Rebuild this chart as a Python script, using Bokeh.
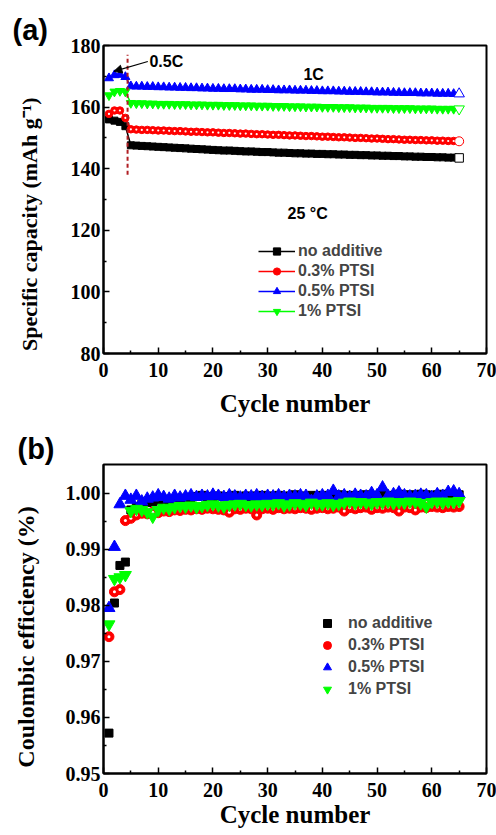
from bokeh.plotting import figure
from bokeh.layouts import column
from bokeh.models import (Range1d, FixedTicker, NumeralTickFormatter, Legend,
                          LegendItem, Label, Arrow, NormalHead)
from bokeh.embed import file_html
from bokeh.resources import INLINE

# ---------------- data ----------------
cycles = list(range(1, 66))

# (a) specific capacity, mAh/g
cap_none = [156.0, 155.6, 155.2, 153.8,
            147.6, 147.5, 147.4, 147.3, 147.2, 147.1, 147.0, 146.9, 146.8, 146.7,
            146.6, 146.5, 146.4, 146.3, 146.2, 146.1, 146.0, 145.9, 145.9, 145.8,
            145.7, 145.6, 145.6, 145.5, 145.4, 145.4, 145.3, 145.2, 145.2, 145.1,
            145.0, 145.0, 144.9, 144.9, 144.8, 144.8, 144.7, 144.7, 144.6, 144.6,
            144.5, 144.5, 144.4, 144.4, 144.3, 144.3, 144.2, 144.2, 144.1, 144.1,
            144.0, 144.0, 143.9, 143.9, 143.8, 143.8, 143.7, 143.7, 143.6, 143.6, 143.5]
cap_03 = [157.8, 158.9, 158.9, 156.5,
          152.8, 152.7, 152.6, 152.6, 152.5, 152.4, 152.4, 152.3, 152.2, 152.2,
          152.1, 152.0, 152.0, 151.9, 151.8, 151.8, 151.7, 151.6, 151.6, 151.5,
          151.4, 151.4, 151.3, 151.2, 151.2, 151.1, 151.0, 151.0, 150.9, 150.8,
          150.8, 150.7, 150.6, 150.6, 150.5, 150.4, 150.4, 150.3, 150.2, 150.2,
          150.1, 150.0, 150.0, 149.9, 149.8, 149.8, 149.7, 149.6, 149.6, 149.5,
          149.4, 149.4, 149.3, 149.3, 149.2, 149.2, 149.1, 149.1, 149.0, 149.0, 148.9]
cap_05 = [169.4, 170.4, 170.5, 169.8,
          166.8, 166.7, 166.7, 166.6, 166.6, 166.5, 166.5, 166.4, 166.4, 166.3,
          166.3, 166.2, 166.2, 166.1, 166.1, 166.0, 166.0, 165.9, 165.9, 165.9,
          165.8, 165.8, 165.7, 165.7, 165.7, 165.6, 165.6, 165.5, 165.5, 165.5,
          165.4, 165.4, 165.4, 165.3, 165.3, 165.2, 165.2, 165.2, 165.1, 165.1,
          165.0, 165.0, 165.0, 164.9, 164.9, 164.8, 164.8, 164.8, 164.7, 164.7,
          164.6, 164.6, 164.6, 164.5, 164.5, 164.5, 164.4, 164.4, 164.4, 164.3, 164.3]
cap_1 = [163.8, 165.0, 165.2, 165.0,
         161.3, 161.2, 161.2, 161.1, 161.1, 161.0, 161.0, 161.0, 160.9, 160.9,
         160.9, 160.8, 160.8, 160.8, 160.7, 160.7, 160.7, 160.6, 160.6, 160.6,
         160.5, 160.5, 160.5, 160.4, 160.4, 160.4, 160.3, 160.3, 160.3, 160.2,
         160.2, 160.2, 160.1, 160.1, 160.1, 160.0, 160.0, 160.0, 159.9, 159.9,
         159.9, 159.8, 159.8, 159.8, 159.7, 159.7, 159.7, 159.7, 159.6, 159.6,
         159.6, 159.6, 159.5, 159.5, 159.5, 159.5, 159.4, 159.4, 159.4, 159.4, 159.4]

# (b) coulombic efficiency
ce_none = [0.9572, 0.9804, 0.9871, 0.9877, 0.9970, 0.9976, 0.9980, 0.9983, 0.9985, 0.9986,
           0.9988, 0.9987, 0.9989, 0.9990, 0.9991, 0.9992, 0.9994, 0.9996, 0.9993, 0.9994,
           0.9995, 0.9993, 0.9994, 0.9996, 0.9994, 0.9995, 0.9993, 0.9995, 0.9996, 0.9994,
           0.9995, 0.9996, 0.9994, 0.9995, 0.9997, 0.9995, 0.9994, 0.9996, 0.9995, 0.9996,
           0.9994, 0.9995, 0.9997, 0.9995, 0.9996, 0.9994, 0.9996, 0.9997, 0.9995, 0.9996,
           0.9997, 0.9995, 0.9996, 0.9998, 0.9996, 0.9997, 0.9996, 0.9998, 0.9997, 0.9996,
           0.9997, 0.9998, 0.9997, 0.9996, 0.9997]
ce_03 = [0.9744, 0.9824, 0.9828, 0.9951, 0.9955, 0.9961, 0.9964, 0.9963, 0.9966, 0.9965,
         0.9968, 0.9967, 0.9970, 0.9969, 0.9971, 0.9970, 0.9972, 0.9971, 0.9973, 0.9972,
         0.9971, 0.9970, 0.9966, 0.9972, 0.9971, 0.9973, 0.9972, 0.9961, 0.9972, 0.9973,
         0.9971, 0.9974, 0.9972, 0.9973, 0.9972, 0.9974, 0.9973, 0.9971, 0.9973, 0.9974,
         0.9972, 0.9973, 0.9975, 0.9968, 0.9974, 0.9972, 0.9974, 0.9975, 0.9971, 0.9974,
         0.9973, 0.9975, 0.9974, 0.9968, 0.9975, 0.9974, 0.9970, 0.9975, 0.9974, 0.9976,
         0.9975, 0.9974, 0.9976, 0.9975, 0.9976]
ce_05 = [0.9795, 0.9904, 0.9980, 0.9995, 0.9988, 0.9995, 0.9985, 0.9990, 0.9992, 0.9996,
         0.9993, 0.9990, 0.9995, 0.9992, 0.9994, 0.9996, 0.9993, 0.9995, 0.9994, 0.9997,
         0.9995, 0.9993, 0.9996, 0.9994, 0.9992, 0.9995, 0.9994, 0.9996, 0.9993, 0.9995,
         0.9994, 0.9996, 0.9993, 0.9995, 0.9994, 0.9996, 0.9995, 0.9986, 0.9994, 0.9996,
         0.9995, 1.0004, 0.9994, 0.9996, 0.9993, 0.9997, 0.9995, 0.9994, 1.0000, 0.9996,
         1.0010, 0.9995, 0.9998, 1.0001, 0.9996, 0.9994, 0.9995, 0.9997, 0.9996, 0.9993,
         0.9998, 0.9995, 1.0002, 1.0003, 0.9998]
ce_1 = [0.9766, 0.9847, 0.9850, 0.9854, 0.9968, 0.9972, 0.9970, 0.9966, 0.9958, 0.9970,
        0.9974, 0.9972, 0.9975, 0.9977, 0.9976, 0.9978, 0.9975, 0.9977, 0.9979, 0.9980,
        0.9978, 0.9976, 0.9979, 0.9980, 0.9981, 0.9979, 0.9978, 0.9980, 0.9979, 0.9981,
        0.9980, 0.9982, 0.9978, 0.9980, 0.9982, 0.9981, 0.9979, 0.9983, 0.9981, 0.9980,
        0.9982, 0.9979, 0.9981, 0.9983, 0.9985, 0.9982, 0.9984, 0.9983, 0.9981, 0.9984,
        0.9983, 0.9985, 0.9982, 0.9984, 0.9983, 0.9985, 0.9984, 0.9982, 0.9976, 0.9984,
        0.9985, 0.9983, 0.9985, 0.9984, 0.9986]

labels = ["no additive", "0.3% PTSI", "0.5% PTSI", "1% PTSI"]
colors = ["black", "#FF0000", "#0000FF", "#00FF00"]
markers_ = ["square", "circle", "triangle", "inverted_triangle"]

x_ticks = [0, 10, 20, 30, 40, 50, 60, 70]
x_minor = [5, 15, 25, 35, 45, 55, 65]
cap_ticks = [80, 100, 120, 140, 160, 180]
cap_minor = [90, 110, 130, 150, 170]
ce_ticks = [0.95, 0.96, 0.97, 0.98, 0.99, 1.00]
ce_minor = [0.955, 0.965, 0.975, 0.985, 0.995]

SERIF = "Liberation Serif"
SANS = "Liberation Sans"
NB = "\u00a0"


def style(p, yt, ym, xlab, ylab, xstand, ystand, ysize, panel):
    p.grid.visible = False
    p.outline_line_color = "black"
    p.outline_line_width = 2
    p.outline_line_alpha = 1
    p.xaxis.ticker = FixedTicker(ticks=x_ticks, minor_ticks=x_minor)
    p.yaxis.ticker = FixedTicker(ticks=yt, minor_ticks=ym)
    for ax in (p.xaxis[0], p.yaxis[0]):
        ax.axis_line_width = 2
        ax.axis_line_color = "black"
        ax.major_tick_in = 6
        ax.major_tick_out = 0
        ax.minor_tick_in = 3
        ax.minor_tick_out = 0
        ax.major_tick_line_width = 1.5
        ax.minor_tick_line_width = 1.5
        ax.major_tick_line_color = "black"
        ax.minor_tick_line_color = "black"
        ax.major_label_text_font = SERIF
        ax.major_label_text_font_style = "bold"
        ax.major_label_text_font_size = "20px"
        ax.major_label_text_color = "black"
        ax.axis_label_text_font = SERIF
        ax.axis_label_text_font_style = "bold"
        ax.axis_label_text_color = "black"
    p.xaxis.major_label_standoff = 9
    p.yaxis.major_label_standoff = 3
    p.xaxis.axis_label = xlab
    p.yaxis.axis_label = ylab
    p.xaxis.axis_label_text_font_size = "25px"
    p.yaxis.axis_label_text_font_size = ysize
    p.xaxis.axis_label_standoff = xstand
    p.yaxis.axis_label_standoff = ystand
    # panel letter as a left-aligned title pulled over the left margin
    p.title.text = panel
    p.title.align = "left"
    p.title.offset = -91
    p.title.standoff = 0
    p.title.text_font = SANS
    p.title.text_font_style = "bold"
    p.title.text_font_size = "29px"
    p.title.text_color = "black"


# ---------------- (a) ----------------
p1 = figure(width=496, height=426, x_range=Range1d(0, 70), y_range=Range1d(80, 180),
            output_backend="svg", toolbar_location=None,
            min_border_left=103, min_border_right=10, min_border_top=45, min_border_bottom=73)
style(p1, cap_ticks, cap_minor, "Cycle number",
      "Specific capacity (mAh g\u207b\u00b9)" + NB * 9, 10, 26, "22px", "(a)")

sizes_a = [7, 7.5, 9, 9]
items_a = []
for vals, lab, col, mk, sz in zip([cap_none, cap_03, cap_05, cap_1], labels, colors, markers_, sizes_a):
    ln = p1.line(cycles, vals, line_color=col, line_width=1.5)
    sc = p1.scatter(cycles[:-1], vals[:-1], marker=mk, size=sz, fill_color=col, line_color=col)
    p1.scatter(cycles[-1:], vals[-1:], marker=mk, size=sz + 1.5, fill_color="white", line_color=col, line_width=1)
    if mk == "circle":
        p1.scatter(cycles[:-1], vals[:-1], marker="circle", size=2.2, fill_color="white", line_alpha=0)
    items_a.append(LegendItem(label=lab, renderers=[ln, sc]))

p1.segment(x0=[4.4], y0=[138], x1=[4.4], y1=[177], line_color="#B01E23",
           line_dash="4 3", line_width=2)
p1.add_layout(Arrow(end=NormalHead(size=8, fill_color="black", line_color="black"),
                    x_start=8.1, y_start=174.8, x_end=1.9, y_end=171.6,
                    line_color="black", line_width=1.2))
for txt, x, y in [("0.5C", 8.4, 174.8), ("1C", 38.4, 170.6), ("25 \u00b0C", 37.3, 125.5)]:
    p1.add_layout(Label(x=x, y=y, text=txt, text_font=SANS, text_font_style="bold",
                        text_font_size="16px", text_baseline="middle",
                        text_align="left" if txt == "0.5C" else "center", text_color="black"))

leg_a = Legend(items=items_a, location=(155, 33), label_text_font=SANS,
               label_text_font_style="bold", label_text_font_size="16px",
               glyph_width=37, glyph_height=18, label_height=18, spacing=2,
               padding=0, margin=0, label_standoff=3,
               border_line_alpha=0, background_fill_alpha=0)
p1.add_layout(leg_a)

# ---------------- (b) ----------------
p2 = figure(width=496, height=409, x_range=Range1d(0, 70), y_range=Range1d(0.95, 1.0051),
            output_backend="svg", toolbar_location=None,
            min_border_left=103, min_border_right=10, min_border_top=38, min_border_bottom=62)
style(p2, ce_ticks, ce_minor, "Cycle number",
      "Coulombic efficiency (%)" + NB * 6, 1, 24, "24px", "(b)")
p2.title.offset = -86
p2.yaxis.formatter = NumeralTickFormatter(format="0.00")

sizes_b = [8, 10, 12, 12]
items_b = []
for vals, lab, col, mk, sz in zip([ce_none, ce_03, ce_05, ce_1], labels, colors, markers_, sizes_b):
    sc = p2.scatter(cycles, vals, marker=mk, size=sz, fill_color=col, line_color=col)
    if mk == "circle":
        p2.scatter(cycles, vals, marker="circle", size=3, fill_color="white", line_alpha=0)
    items_b.append(LegendItem(label=lab, renderers=[sc]))

leg_b = Legend(items=items_b, location=(214, 74), label_text_font=SANS,
               label_text_font_style="bold", label_text_font_size="16px",
               glyph_width=20, glyph_height=20, label_height=20, spacing=2,
               padding=0, margin=0, label_standoff=11,
               border_line_alpha=0, background_fill_alpha=0)
p2.add_layout(leg_b)

layout = column(p1, p2, spacing=0)
open("out.html", "w").write(file_html(layout, INLINE))
